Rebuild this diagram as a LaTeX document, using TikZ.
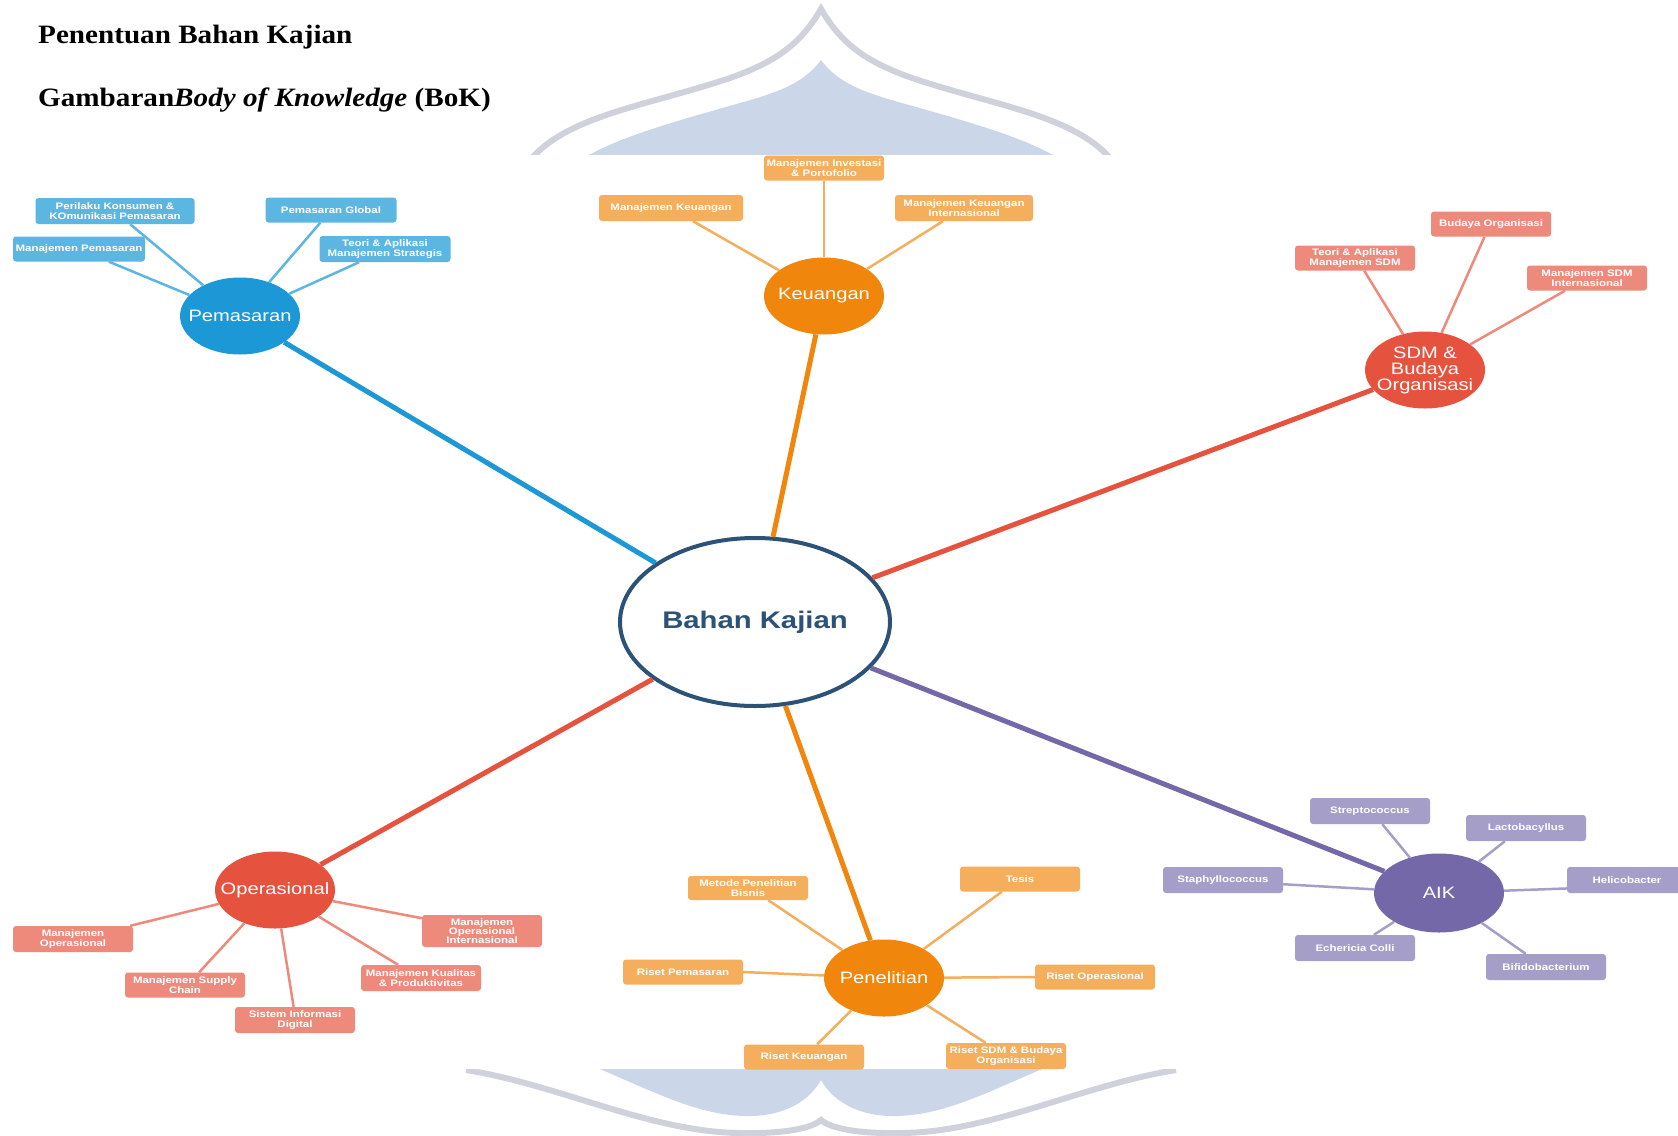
\documentclass[tikz,border=0pt]{standalone}
\usepackage{fontspec}
\setmainfont{Liberation Serif}[FakeStretch=1.1]
\newfontfamily\mapfont{Liberation Sans}[FakeStretch=1.22]
\usetikzlibrary{shapes.geometric}

\definecolor{kajian}{HTML}{2C5277}
\definecolor{pemasaran}{HTML}{1B98D5}
\definecolor{pemasaranleaf}{HTML}{5CB6E2}
\definecolor{keuangan}{HTML}{F0870C}
\definecolor{keuanganleaf}{HTML}{F4AE5C}
\definecolor{sdm}{HTML}{E5533F}
\definecolor{sdmleaf}{HTML}{EE8A7C}
\definecolor{aik}{HTML}{7468A9}
\definecolor{aikleaf}{HTML}{A59EC9}
\definecolor{kubah}{HTML}{CBD7E9}
\definecolor{kubahline}{HTML}{CFD2DB}

\begin{document}
\begin{tikzpicture}[
   x=1pt,y=-1pt,
   hub/.style={ellipse,inner xsep=-40pt,inner ysep=-20pt,minimum width=120pt,minimum height=77pt,text=white,align=center,font=\mapfont\fontsize{16.5}{16}\selectfont},
   leaf/.style={rectangle,rounded corners=3pt,inner sep=0pt,minimum width=120pt,minimum height=25pt,text=white,align=center,font=\mapfont\bfseries\fontsize{9.4}{9.3}\selectfont},
   trunk/.style={line width=5pt},
   twig/.style={line width=2.5pt},
   judul/.style={anchor=base west,inner sep=0pt,font=\bfseries\fontsize{26.5}{30}\selectfont}]
\useasboundingbox (0,0) rectangle (1678,1135);
% watermark behind the map
\fill[kubah] (589,155) .. controls (625,135) and (680,120) .. (740,103) .. controls (780,92) and (805,82) .. (821,60) .. controls (837,82) and (862,92) .. (902,103) .. controls (962,120) and (1017,135) .. (1053,155) -- cycle;
\draw[kubahline,line width=6pt] (532,158) .. controls (570,115) and (650,105) .. (730,78) .. controls (775,62) and (800,45) .. (821,9) .. controls (842,45) and (867,62) .. (912,78) .. controls (992,105) and (1072,115) .. (1110,158);
\fill[kubah] (600,1069) .. controls (660,1095) and (700,1115) .. (745,1116) .. controls (785,1117) and (810,1100) .. (821,1080) .. controls (832,1100) and (857,1117) .. (897,1116) .. controls (942,1115) and (982,1095) .. (1042,1069) -- cycle;
\draw[kubahline,line width=6pt] (466,1070) .. controls (560,1085) and (650,1132) .. (740,1133) .. controls (785,1134) and (812,1128) .. (821,1120) .. controls (830,1128) and (857,1134) .. (902,1133) .. controls (992,1132) and (1082,1085) .. (1176,1070);
\fill[white] (0,155) rectangle (1678,1069);

\node[judul] (judul) at (38,43) {Penentuan Bahan Kajian};
\node[judul] (subjudul) at (38,106) {Gambaran\textit{Body of Knowledge} (BoK)};

% hubs
\node[ellipse,draw=kajian,line width=4pt,fill=white,minimum width=270pt,minimum height=168pt,inner xsep=-60pt,inner ysep=-30pt,text=kajian,font=\mapfont\bfseries\fontsize{24}{24}\selectfont] (kajian) at (755,622) {Bahan Kajian};
\node[hub,fill=pemasaran] (pemasaran) at (240,316) {Pemasaran};
\node[hub,fill=keuangan] (keuangan) at (824,296) {Keuangan};
\node[hub,fill=sdm] (sdm) at (1425,370) {SDM \&\\Budaya\\Organisasi};
\node[hub,fill=sdm] (operasional) at (275,890) {Operasional};
\node[hub,fill=keuangan] (penelitian) at (884,978) {Penelitian};
\node[hub,fill=aik,minimum width=130pt,minimum height=79pt] (aik) at (1439,893) {AIK};

% leaves
\node[leaf,fill=pemasaranleaf,minimum width=159pt,minimum height=26pt] (perilaku) at (115,211) {Perilaku Konsumen \&\\KOmunikasi Pemasaran};
\node[leaf,fill=pemasaranleaf,minimum width=132pt] (manpemasaran) at (79,249) {Manajemen Pemasaran};
\node[leaf,fill=pemasaranleaf,minimum width=131pt] (global) at (331,210) {Pemasaran Global};
\node[leaf,fill=pemasaranleaf,minimum width=131pt,minimum height=26pt] (strategis) at (385,249) {Teori \& Aplikasi\\Manajemen Strategis};

\node[leaf,fill=keuanganleaf] (investasi) at (824,168) {Manajemen Investasi\\\& Portofolio};
\node[leaf,fill=keuanganleaf,minimum width=144pt,minimum height=26pt] (mk) at (671,208) {Manajemen Keuangan};
\node[leaf,fill=keuanganleaf,minimum width=138pt,minimum height=26pt] (mki) at (964,208) {Manajemen Keuangan\\Internasional};

\node[leaf,fill=sdmleaf] (budaya) at (1491,224) {Budaya Organisasi};
\node[leaf,fill=sdmleaf] (teorisdm) at (1355,258) {Teori \& Aplikasi\\Manajemen SDM};
\node[leaf,fill=sdmleaf] (sdmintl) at (1587,278) {Manajemen SDM\\Internasional};

\node[leaf,fill=sdmleaf,minimum height=26pt] (manop) at (73,939) {Manajemen\\Operasional};
\node[leaf,fill=sdmleaf] (supply) at (185,985) {Manajemen Supply\\Chain};
\node[leaf,fill=sdmleaf,minimum height=26pt] (sistem) at (295,1020) {Sistem Informasi\\Digital};
\node[leaf,fill=sdmleaf,minimum height=26pt] (kualitas) at (421,978) {Manajemen Kualitas\\\& Produktivitas};
\node[leaf,fill=sdmleaf,minimum height=32pt] (opsintl) at (482,931) {Manajemen\\Operasional\\Internasional};

\node[leaf,fill=keuanganleaf,minimum height=24pt] (metode) at (748,888) {Metode Penelitian\\Bisnis};
\node[leaf,fill=keuanganleaf] (tesis) at (1020,879) {Tesis};
\node[leaf,fill=keuanganleaf] (risetpem) at (683,972) {Riset Pemasaran};
\node[leaf,fill=keuanganleaf] (risetops) at (1095,977) {Riset Operasional};
\node[leaf,fill=keuanganleaf] (risetkeu) at (804,1057) {Riset Keuangan};
\node[leaf,fill=keuanganleaf,minimum height=26pt] (risetsdm) at (1006,1056) {Riset SDM \& Budaya\\Organisasi};

\node[leaf,fill=aikleaf,minimum height=26pt] (strep) at (1370,811) {Streptococcus};
\node[leaf,fill=aikleaf,minimum height=26pt] (lacto) at (1526,828) {Lactobacyllus};
\node[leaf,fill=aikleaf,minimum height=26pt] (staph) at (1223,880) {Staphyllococcus};
\node[leaf,fill=aikleaf,minimum height=26pt] (helico) at (1627,880) {Helicobacter};
\node[leaf,fill=aikleaf,minimum height=26pt] (echer) at (1355,948) {Echericia Colli};
\node[leaf,fill=aikleaf,minimum height=26pt] (bifido) at (1546,967) {Bifidobacterium};

% trunks
\draw[trunk,pemasaran] (kajian) to (pemasaran);
\draw[trunk,keuangan] (kajian) to (keuangan);
\draw[trunk,sdm] (kajian) to (sdm);
\draw[trunk,sdm] (kajian) to (operasional);
\draw[trunk,keuangan] (kajian) to (penelitian);
\draw[trunk,aik] (kajian) to (aik);

% twigs
\draw[twig,pemasaranleaf] (pemasaran) to (perilaku.-41);
\draw[twig,pemasaranleaf] (pemasaran) to (manpemasaran.-23);
\draw[twig,pemasaranleaf] (pemasaran) to (global.-130);
\draw[twig,pemasaranleaf] (pemasaran) to (strategis.-153);
\draw[twig,keuanganleaf] (keuangan) to (investasi.south);
\draw[twig,keuanganleaf] (keuangan) to (mk.-31);
\draw[twig,keuanganleaf] (keuangan) to (mki.-148);
\draw[twig,sdmleaf] (sdm) to (teorisdm.-54);
\draw[twig,sdmleaf] (sdm) to (budaya.-117);
\draw[twig,sdmleaf] (sdm) to (sdmintl.-150);
\draw[twig,sdmleaf] (operasional) to (manop.13);
\draw[twig,sdmleaf] (operasional) to (supply.42);
\draw[twig,sdmleaf] (operasional) to (sistem.96);
\draw[twig,sdmleaf] (operasional) to (kualitas.150);
\draw[twig,sdmleaf] (operasional) to (opsintl.168);
\draw[twig,keuanganleaf] (penelitian) to (metode.-31);
\draw[twig,keuanganleaf] (penelitian) to (tesis.-145);
\draw[twig,keuanganleaf] (penelitian) to (risetpem.east);
\draw[twig,keuanganleaf] (penelitian) to (risetops.west);
\draw[twig,keuanganleaf] (penelitian) to (risetkeu.44);
\draw[twig,keuanganleaf] (penelitian) to (risetsdm.147);
\draw[twig,aikleaf] (aik) to (strep.-47);
\draw[twig,aikleaf] (aik) to (lacto.-148);
\draw[twig,aikleaf] (aik) to (staph.-4);
\draw[twig,aikleaf] (aik) to (helico.-172);
\draw[twig,aikleaf] (aik) to (echer.35);
\draw[twig,aikleaf] (aik) to (bifido.147);
\end{tikzpicture}
\end{document}
